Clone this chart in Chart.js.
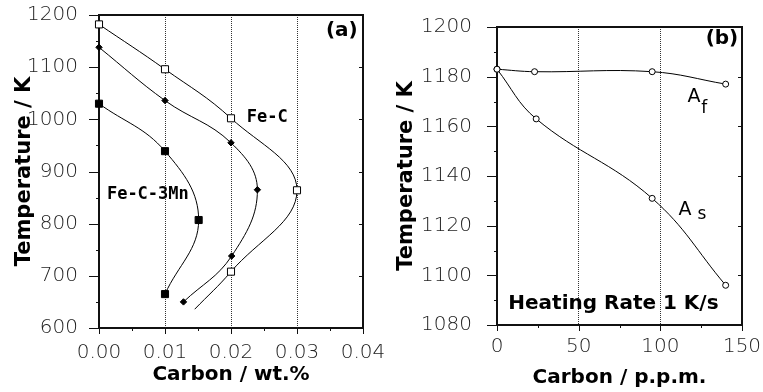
<!DOCTYPE html>
<html lang="en">

<head>
  <meta charset="UTF-8">
  <title>Fe-C transformation temperatures</title>
  <style>
    body {
      margin: 0;
      background: #fff;
    }

    #wrap {
      position: relative;
      width: 763px;
      height: 392px;
      overflow: hidden;
    }

    canvas {
      position: absolute;
      top: 0;
    }

    #chartA { left: 0; }
    #chartB { left: 380px; }
  </style>
  <script src="https://cdn.jsdelivr.net/npm/chart.js"></script>
</head>

<body>
  <div id="wrap">
    <canvas id="chartA" width="400" height="392"></canvas>
    <canvas id="chartB" width="383" height="392"></canvas>
  </div>

  <script>
    // (a) carbon in wt.% against temperature in K
    const feC_x   = [0, 0.01, 0.02, 0.03, 0.02, 0.0145];
    const feC_y   = [1182, 1096, 1002, 864, 708, 636];
    const mid_x   = [0, 0.01, 0.02, 0.024, 0.0201, 0.0128];
    const mid_y   = [1138, 1036, 955, 865, 738, 650];
    const feCMn_x = [0, 0.01, 0.0151, 0.01];
    const feCMn_y = [1030, 939, 807, 665];

    // (b) carbon in p.p.m. against temperature in K
    const af_x = [0, 23, 95, 140];
    const af_y = [1183, 1182, 1182, 1177];
    const as_x = [0, 24, 95, 140];
    const as_y = [1183, 1163, 1131, 1096];

    // notes written on the plots (data coordinates)
    const notesA_text = ['(a)', 'Fe-C', 'Fe-C-3Mn'];
    const notesA_x    = [0.0392, 0.0224, 0.0012];
    const notesA_y    = [1160, 995.5, 846.7];
    const notesB_text = ['(b)', 'A', 'f', 'A', 's', 'Heating Rate 1 K/s'];
    const notesB_x    = [147.7, 116.6, 125.1, 111.1, 122.7, 6.9];
    const notesB_y    = [1193, 1169.7, 1165.3, 1124.3, 1122.6, 1086.4];

    const pts = (xs, ys) => xs.map((v, i) => ({ x: v, y: ys[i] }));

    const tickFont = { family: '"DejaVu Sans"', size: 20, weight: 200 };
    const titleFont = { family: '"DejaVu Sans"', size: 20, weight: 'bold' };

    // frame round the plot area plus outer / inner tick marks
    const frameTicks = {
      id: 'frameTicks',
      beforeDatasetsDraw(chart) {
        const { ctx, chartArea: a, scales: { x, y } } = chart;
        const majX = x.ticks.map(t => t.value);
        const majY = y.ticks.map(t => t.value);
        const mids = v => v.slice(1).map((m, i) => (m + v[i]) / 2);

        ctx.save();
        ctx.strokeStyle = '#111';
        ctx.lineWidth = 1;
        ctx.beginPath();
        majY.forEach(v => {
          const p = Math.round(y.getPixelForValue(v)) + 0.5;
          ctx.moveTo(a.left - 10, p); ctx.lineTo(a.left, p);
          ctx.moveTo(a.right - 4, p); ctx.lineTo(a.right, p);
        });
        mids(majY).forEach(v => {
          const p = Math.round(y.getPixelForValue(v)) + 0.5;
          ctx.moveTo(a.left - 3, p); ctx.lineTo(a.left, p);
        });
        majX.forEach(v => {
          const p = Math.round(x.getPixelForValue(v)) + 0.5;
          ctx.moveTo(p, a.bottom); ctx.lineTo(p, a.bottom + 6);
        });
        mids(majX).forEach(v => {
          const p = Math.round(x.getPixelForValue(v)) + 0.5;
          ctx.moveTo(p, a.bottom); ctx.lineTo(p, a.bottom + 3);
        });
        ctx.stroke();
        ctx.lineWidth = 2;
        ctx.strokeRect(a.left, a.top, a.right - a.left, a.bottom - a.top);
        ctx.restore();
      }
    };

    function notesPlugin(texts, xs, ys, fonts) {
      return {
        id: 'notes',
        afterDatasetsDraw(chart) {
          const { ctx, scales: { x, y } } = chart;
          ctx.save();
          ctx.fillStyle = '#000';
          ctx.textBaseline = 'alphabetic';
          texts.forEach((t, i) => {
            ctx.font = fonts[i];
            ctx.textAlign = t.startsWith('(') ? 'right' : 'left';
            ctx.fillText(t, x.getPixelForValue(xs[i]), y.getPixelForValue(ys[i]));
          });
          ctx.restore();
        }
      };
    }

    function line(data, style, radius, fill) {
      return {
        data: data,
        showLine: true,
        tension: 0.4,
        borderColor: '#000',
        borderWidth: 1,
        pointStyle: style,
        pointRadius: radius,
        pointBackgroundColor: fill,
        pointBorderColor: '#000',
        pointBorderWidth: 1,
        clip: false
      };
    }

    function axes(xMin, xMax, xStep, xDigits, xTitle, yMin, yMax, yStep, yTitlePad, dims) {
      const innerGrid = c => (c.tick && c.tick.value > c.scale.min + 1e-9 && c.tick.value < c.scale.max - 1e-9) ? '#333' : 'transparent';
      return {
        x: {
          type: 'linear', min: xMin, max: xMax,
          ticks: {
            stepSize: xStep, autoSkip: false, maxRotation: 0,
            padding: dims.xPad, color: '#222', font: tickFont,
            callback: v => v.toFixed(xDigits)
          },
          grid: { drawTicks: false, color: innerGrid, lineWidth: 1 },
          border: { display: false, dash: [1, 1] },
          title: { display: true, text: xTitle, color: '#000', font: titleFont, padding: { top: 0, bottom: dims.xTitlePad } },
          afterFit(s) { s.height = dims.xH; s.paddingLeft = 0; s.paddingRight = 0; }
        },
        y: {
          type: 'linear', min: yMin, max: yMax,
          ticks: { stepSize: yStep, padding: dims.yPad, color: '#222', font: tickFont, callback: v => String(v) },
          grid: { display: false },
          border: { display: false },
          title: { display: true, text: 'Temperature / K', color: '#000', font: { family: '"DejaVu Sans"', size: 21, weight: 'bold' }, padding: { top: yTitlePad, bottom: 0 } },
          afterFit(s) { s.width = dims.yW; s.paddingTop = 0; s.paddingBottom = 0; }
        }
      };
    }

    const common = {
      responsive: false,
      animation: false,
      events: [],
      plugins: { legend: { display: false }, tooltip: { enabled: false } }
    };

    new Chart(document.getElementById('chartA'), {
      type: 'scatter',
      data: {
        datasets: [
          line(pts(feC_x, feC_y), 'rect', [5, 5, 5, 5, 5, 0], '#fff'),
          line(pts(mid_x, mid_y), 'rectRot', 3.2, '#000'),
          line(pts(feCMn_x, feCMn_y), 'rect', 5, '#000')
        ]
      },
      options: Object.assign({}, common, {
        layout: { padding: { left: 0, top: 15, right: 37, bottom: 0 } },
        scales: axes(0, 0.04, 0.01, 2, 'Carbon / wt.%', 600, 1200, 100, 12,
          { xH: 64, xPad: 13, xTitlePad: 5, yW: 99, yPad: 13 })
      }),
      plugins: [frameTicks, notesPlugin(notesA_text, notesA_x, notesA_y,
        ['bold 20px "DejaVu Sans"', 'bold 17px "DejaVu Sans Mono"', 'bold 17px "DejaVu Sans Mono"'])]
    });

    new Chart(document.getElementById('chartB'), {
      type: 'scatter',
      data: {
        datasets: [
          line(pts(af_x, af_y), 'circle', 3, '#fff'),
          line(pts(as_x, as_y), 'circle', 3, '#fff')
        ]
      },
      options: Object.assign({}, common, {
        layout: { padding: { left: 0, top: 27, right: 21, bottom: 0 } },
        scales: axes(0, 150, 50, 0, 'Carbon / p.p.m.', 1080, 1200, 20, 14,
          { xH: 67, xPad: 10, xTitlePad: 2, yW: 117, yPad: 17 })
      }),
      plugins: [frameTicks, notesPlugin(notesB_text, notesB_x, notesB_y,
        ['bold 20px "DejaVu Sans"', '19px "DejaVu Sans"', '17px "DejaVu Sans"',
         '19px "DejaVu Sans"', '17px "DejaVu Sans"', 'bold 20px "DejaVu Sans"'])]
    });
  </script>
</body>

</html>
